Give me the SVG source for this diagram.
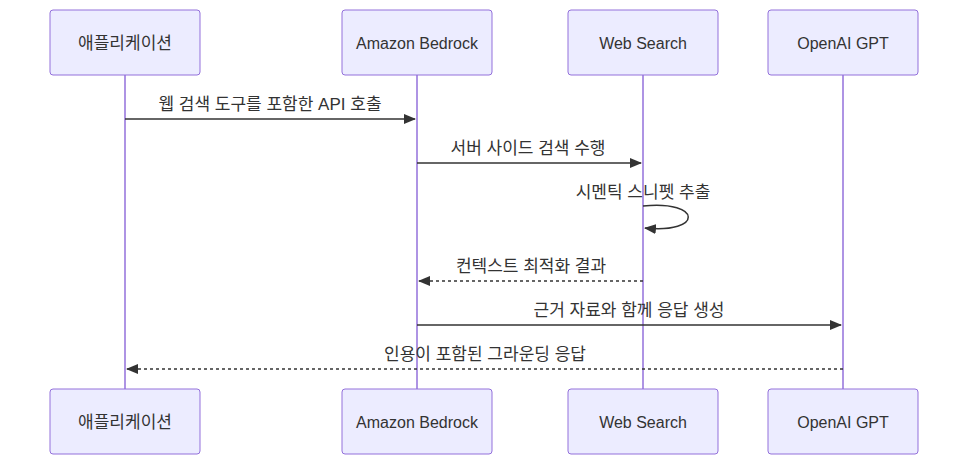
<svg xmlns="http://www.w3.org/2000/svg" width="968" height="465" viewBox="0 0 968 465">
<style>
.box{fill:#ECECFF;stroke:#9370DB;stroke-width:1}
.life{stroke:#9370DB;stroke-width:1.5}
.t{font-family:"Liberation Sans","Noto Sans CJK KR",sans-serif;font-size:16px;fill:#333;text-anchor:middle;dominant-baseline:central}
.k{font-size:17px}
.m{stroke:#333;stroke-width:1.5;fill:none}
.d{stroke-dasharray:3,3}
</style>
<defs>
<marker id="a" viewBox="0 0 12 10" refX="11" refY="5" markerWidth="12" markerHeight="10" markerUnits="userSpaceOnUse" orient="auto"><path d="M0,0L12,5L0,10z" fill="#333"/></marker>
</defs>
<g id="lifelines">
<line class="life" x1="125" y1="75" x2="125" y2="389"/>
<line class="life" x1="417" y1="75" x2="417" y2="389"/>
<line class="life" x1="643" y1="75" x2="643" y2="389"/>
<line class="life" x1="843" y1="75" x2="843" y2="389"/>
</g>
<g id="app"><rect class="box" x="50" y="10" width="150" height="65" rx="3"/><text class="t k" x="125" y="43">애플리케이션</text><rect class="box" x="50" y="389" width="150" height="65" rx="3"/><text class="t k" x="125" y="422">애플리케이션</text></g>
<g id="bedrock"><rect class="box" x="342" y="10" width="150" height="65" rx="3"/><text class="t" x="417" y="43">Amazon Bedrock</text><rect class="box" x="342" y="389" width="150" height="65" rx="3"/><text class="t" x="417" y="422">Amazon Bedrock</text></g>
<g id="search"><rect class="box" x="568" y="10" width="150" height="65" rx="3"/><text class="t" x="643" y="43">Web Search</text><rect class="box" x="568" y="389" width="150" height="65" rx="3"/><text class="t" x="643" y="422">Web Search</text></g>
<g id="gpt"><rect class="box" x="768" y="10" width="150" height="65" rx="3"/><text class="t" x="843" y="43">OpenAI GPT</text><rect class="box" x="768" y="389" width="150" height="65" rx="3"/><text class="t" x="843" y="422">OpenAI GPT</text></g>
<g id="connectors">
<line class="m" x1="125" y1="119" x2="415" y2="119" marker-end="url(#a)"/>
<text class="t k" x="270" y="104">웹 검색 도구를 포함한 API 호출</text>
<line class="m" x1="417" y1="163" x2="641" y2="163" marker-end="url(#a)"/>
<text class="t k" x="528" y="148">서버 사이드 검색 수행</text>
<path class="m" d="M643,206 C703,200 703,234 645,228" marker-end="url(#a)"/>
<text class="t k" x="643" y="192">시멘틱 스니펫 추출</text>
<line class="m d" x1="643" y1="281" x2="419" y2="281" marker-end="url(#a)"/>
<text class="t k" x="531" y="266">컨텍스트 최적화 결과</text>
<line class="m" x1="417" y1="325" x2="841" y2="325" marker-end="url(#a)"/>
<text class="t k" x="629" y="310">근거 자료와 함께 응답 생성</text>
<line class="m d" x1="843" y1="369" x2="127" y2="369" marker-end="url(#a)"/>
<text class="t k" x="485" y="354">인용이 포함된 그라운딩 응답</text>
</g>
</svg>
